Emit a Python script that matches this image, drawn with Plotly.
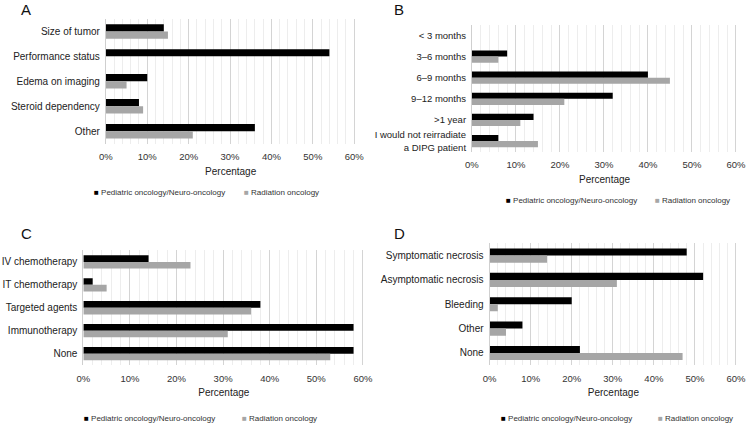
import plotly.graph_objects as go

# ---------------- data ----------------
series_names = ["Pediatric oncology/Neuro-oncology", "Radiation oncology"]

a_categories = ["Size of tumor", "Performance status", "Edema on imaging", "Steroid dependency", "Other"]
a_pediatric = [14, 54, 10, 8, 36]
a_radiation = [15, 0, 5, 9, 21]

b_categories = ["< 3 months", "3–6 months", "6–9 months", "9–12 months", ">1 year",
                "I would not reirradiate<br>a DIPG patient"]
b_pediatric = [0, 8, 40, 32, 14, 6]
b_radiation = [0, 6, 45, 21, 11, 15]

c_categories = ["IV chemotherapy", "IT chemotherapy", "Targeted agents", "Immunotherapy", "None"]
c_pediatric = [14, 2, 38, 58, 58]
c_radiation = [23, 5, 36, 31, 53]

d_categories = ["Symptomatic necrosis", "Asymptomatic necrosis", "Bleeding", "Other", "None"]
d_pediatric = [48, 52, 20, 8, 22]
d_radiation = [14, 31, 2, 4, 47]

x_tickvals = [0, 10, 20, 30, 40, 50, 60]
x_ticktext = ["0%", "10%", "20%", "30%", "40%", "50%", "60%"]
panel_letters = ["A", "B", "C", "D"]

# ---------------- styling ----------------
W, H = 756, 424
BLACK = "#000000"
GREY = "#a6a6a6"
FONT = "Liberation Sans, Arial, sans-serif"


def px(x):
    return x / W


def py(y):
    return 1 - y / H


panels = [
    dict(cats=a_categories, p=a_pediatric, r=a_radiation, xd=(101, 356), yd=(19, 144),
         letter=(12, 10), leg=(87, 240, 193), cat_size=10),
    dict(cats=b_categories, p=b_pediatric, r=b_radiation, xd=(475, 746), yd=(25, 152),
         letter=(393, 10), leg=(508, 660, 201), cat_size=9.5),
    dict(cats=c_categories, p=c_pediatric, r=c_radiation, xd=(78, 365), yd=(251, 366),
         letter=(12, 234), leg=(77, 238, 419), cat_size=10),
    dict(cats=d_categories, p=d_pediatric, r=d_radiation, xd=(493, 746), yd=(244, 366),
         letter=(393, 234), leg=(503, 663, 419), cat_size=10),
]

fig = go.Figure()
layout = dict(
    width=W, height=H, margin=dict(l=0, r=0, t=0, b=0),
    paper_bgcolor="white", plot_bgcolor="white",
    barmode="group", bargap=0.42, bargroupgap=0,
    font=dict(family=FONT, color="#222222"),
    showlegend=False,
)
annotations = []

for i, pnl in enumerate(panels):
    n = "" if i == 0 else str(i + 1)
    xa, ya = "x" + n, "y" + n
    fig.add_trace(go.Bar(y=pnl["cats"], x=pnl["p"], orientation="h", marker_color=BLACK,
                         marker_line_width=0, xaxis=xa, yaxis=ya, name=series_names[0]))
    fig.add_trace(go.Bar(y=pnl["cats"], x=pnl["r"], orientation="h", marker_color=GREY,
                         marker_line_width=0, xaxis=xa, yaxis=ya, name=series_names[1]))

    layout["xaxis" + n] = dict(
        domain=[px(pnl["xd"][0]), px(pnl["xd"][1])], anchor=ya, range=[0, 60.3],
        tickvals=x_tickvals, ticktext=x_ticktext, showgrid=True, gridcolor="#d4d4d4", gridwidth=1,
        minor=dict(dtick=2, showgrid=True, gridcolor="#ededed", gridwidth=1),
        zeroline=False, showline=False, ticks="outside", ticklen=4,
        tickcolor="rgba(0,0,0,0)", tickfont=dict(size=9.5, color="#333333"),
        title=dict(text="Percentage", font=dict(size=10, color="#222222"), standoff=6),
        fixedrange=True,
    )
    layout["yaxis" + n] = dict(
        domain=[py(pnl["yd"][1]), py(pnl["yd"][0])], anchor=xa, autorange="reversed",
        showgrid=False, showline=True, linecolor="#cfcfcf", linewidth=1,
        ticks="outside", ticklen=3, tickcolor="rgba(0,0,0,0)",
        tickfont=dict(size=pnl["cat_size"], color="#222222"), fixedrange=True,
    )
    annotations.append(dict(text=panel_letters[i], x=px(pnl["letter"][0]), y=py(pnl["letter"][1]),
                            xref="paper", yref="paper", xanchor="left", yanchor="middle",
                            showarrow=False, font=dict(size=15, color="#111111")))
    # legend (square swatch + label for each series)
    for name, col, lx in zip(series_names, [BLACK, GREY], pnl["leg"][:2]):
        annotations.append(dict(
            text=f'<span style="color:{col}">■</span> {name}',
            x=px(lx), y=py(pnl["leg"][2]), xref="paper", yref="paper",
            xanchor="left", yanchor="middle", showarrow=False,
            font=dict(size=8, color="#333333")))

layout["annotations"] = annotations
fig.update_layout(**layout)
fig.write_html(
    "out.html",
    config={"displayModeBar": False},
    post_script="document.body.style.margin='0';document.body.style.overflow='hidden';",
)
